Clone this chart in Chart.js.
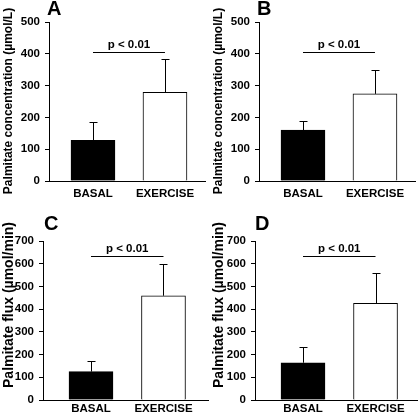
<!DOCTYPE html>
<html lang="en">
  <head>
    <meta charset="UTF-8" />
    <title>Palmitate concentration and flux</title>
    <script src="https://cdn.jsdelivr.net/npm/chart.js@4.4.0/dist/chart.umd.min.js"></script>
    <style>
      body { margin: 0; background: #fff; }
      canvas.panel { position: absolute; }
    </style>
  </head>
  <body>
    <canvas id="chartA" class="panel" width="210" height="200" style="left:0;top:0"></canvas>
    <canvas id="chartB" class="panel" width="210" height="200" style="left:210px;top:0"></canvas>
    <canvas id="chartC" class="panel" width="210" height="215" style="left:0;top:200px"></canvas>
    <canvas id="chartD" class="panel" width="210" height="215" style="left:210px;top:200px"></canvas>

    <script>
      // data
      const groups = ["BASAL", "EXERCISE"];
      const concA = [128, 279];
      const concAErr = [58, 104];
      const concB = [160, 274];
      const concBErr = [29, 75];
      const fluxC = [125, 459];
      const fluxCErr = [47, 140];
      const fluxD = [164, 426];
      const fluxDErr = [69, 131];
      const concTicks = [0, 100, 200, 300, 400, 500];
      const fluxTicks = [0, 100, 200, 300, 400, 500, 600, 700];
      const pLabel = "p < 0.01";
      const pLevelConc = 406;
      const pLevelFlux = 636;

      const FONT = "'Liberation Sans', Arial, sans-serif";

      // error bars, p-value bracket, y title and panel letter
      const extras = {
        id: "extras",
        afterDatasetsDraw(chart, args, opts) {
          const ctx = chart.ctx;
          const x = chart.scales.x;
          const y = chart.scales.y;
          const meta = chart.getDatasetMeta(0);
          ctx.save();
          ctx.strokeStyle = "#000";
          ctx.lineWidth = 1;
          meta.data.forEach((bar, i) => {
            const cx = Math.round(bar.x) + 0.5;
            const top = Math.round(y.getPixelForValue(opts.means[i] + opts.errs[i])) + 0.5;
            ctx.beginPath();
            ctx.moveTo(cx, bar.y);
            ctx.lineTo(cx, top);
            ctx.moveTo(cx - 4, top);
            ctx.lineTo(cx + 4, top);
            ctx.stroke();
          });

          const py = Math.round(y.getPixelForValue(opts.pLevel)) + 0.5;
          ctx.beginPath();
          ctx.moveTo(x.getPixelForValue(1), py);
          ctx.lineTo(x.getPixelForValue(2), py);
          ctx.stroke();
          ctx.fillStyle = "#000";
          ctx.font = "bold 11.5px " + FONT;
          ctx.textAlign = "center";
          ctx.textBaseline = "alphabetic";
          ctx.fillText(pLabel, x.getPixelForValue(1.5), py - 5);

          // rotated axis title
          ctx.save();
          ctx.translate(opts.titleX, opts.titleY);
          ctx.rotate(-Math.PI / 2);
          ctx.font = "bold " + opts.titleSize + "px " + FONT;
          ctx.textBaseline = "middle";
          ctx.fillText(opts.title, 0, 0);
          ctx.restore();

          ctx.font = "bold 20px " + FONT;
          ctx.textAlign = "left";
          ctx.fillText(opts.letter, opts.letterX, opts.letterY);
          ctx.restore();
        }
      };

      function makePanel(id, p) {
        return new Chart(document.getElementById(id), {
          type: "bar",
          data: {
            datasets: [
              {
                data: p.means.map((v, i) => ({ x: i + 1, y: v })),
                backgroundColor: ["#000", "#fff"],
                borderColor: "#000",
                borderWidth: 1,
                barThickness: 44
              }
            ]
          },
          options: {
            responsive: false,
            animation: false,
            devicePixelRatio: 1,
            layout: { padding: { left: 0, right: p.right, top: p.top, bottom: 0 } },
            plugins: {
              legend: { display: false },
              tooltip: { enabled: false },
              extras: {
                means: p.means,
                errs: p.errs,
                pLevel: p.pLevel,
                letter: p.letter,
                letterX: p.letterX,
                letterY: p.letterY,
                title: p.title,
                titleSize: p.titleSize,
                titleX: p.titleX,
                titleY: p.titleY
              }
            },
            scales: {
              x: {
                type: "linear",
                offset: false,
                min: p.xmin,
                max: p.xmax,
                afterBuildTicks: (s) => { s.ticks = groups.map((g, i) => ({ value: i + 1 })); },
                afterFit: (s) => { s.height = p.bottom; },
                grid: { display: false, drawTicks: false, offset: false },
                border: { display: true, color: "#000", width: 1 },
                ticks: {
                  autoSkip: false,
                  maxRotation: 0,
                  padding: p.xPad,
                  color: "#000",
                  font: { family: FONT, size: 11.5, weight: "bold" },
                  callback: (v) => groups[v - 1]
                }
              },
              y: {
                min: 0,
                max: p.yTicks[p.yTicks.length - 1],
                afterBuildTicks: (s) => { s.ticks = p.yTicks.map((v) => ({ value: v })); },
                afterFit: (s) => { s.width = p.left; },
                grid: { drawOnChartArea: false, drawTicks: true, tickLength: 4, color: "#000" },
                border: { display: true, color: "#000", width: 1 },
                ticks: {
                  padding: 5,
                  color: "#000",
                  font: { family: FONT, size: 11.5, weight: "bold" }
                },
                title: { display: false }
              }
            }
          },
          plugins: [extras]
        });
      }

      makePanel("chartA", {
        means: concA, errs: concAErr, yTicks: concTicks, pLevel: pLevelConc,
        title: "Palmitate concentration (\u00b5mol/L)", titleSize: 12, titleX: 8.5, titleY: 101,
        letter: "A", letterX: 47, letterY: 15,
        left: 49, right: 5, top: 22, bottom: 19, xPad: 6, xmin: 0.389, xmax: 2.556
      });
      makePanel("chartB", {
        means: concB, errs: concBErr, yTicks: concTicks, pLevel: pLevelConc,
        title: "Palmitate concentration (\u00b5mol/L)", titleSize: 12, titleX: 8.5, titleY: 101,
        letter: "B", letterX: 47, letterY: 15,
        left: 49, right: 5, top: 22, bottom: 19, xPad: 6, xmin: 0.389, xmax: 2.556
      });
      makePanel("chartC", {
        means: fluxC, errs: fluxCErr, yTicks: fluxTicks, pLevel: pLevelFlux,
        title: "Palmitate flux (\u00b5mol/min)", titleSize: 14, titleX: 9, titleY: 105,
        letter: "C", letterX: 44, letterY: 30,
        left: 43, right: 2, top: 41, bottom: 15, xPad: 2, xmin: 0.338, xmax: 2.614
      });
      makePanel("chartD", {
        means: fluxD, errs: fluxDErr, yTicks: fluxTicks, pLevel: pLevelFlux,
        title: "Palmitate flux (\u00b5mol/min)", titleSize: 14, titleX: 9, titleY: 105,
        letter: "D", letterX: 45, letterY: 30,
        left: 45, right: 3, top: 41, bottom: 15, xPad: 2, xmin: 0.338, xmax: 2.572
      });
    </script>
  </body>
</html>
